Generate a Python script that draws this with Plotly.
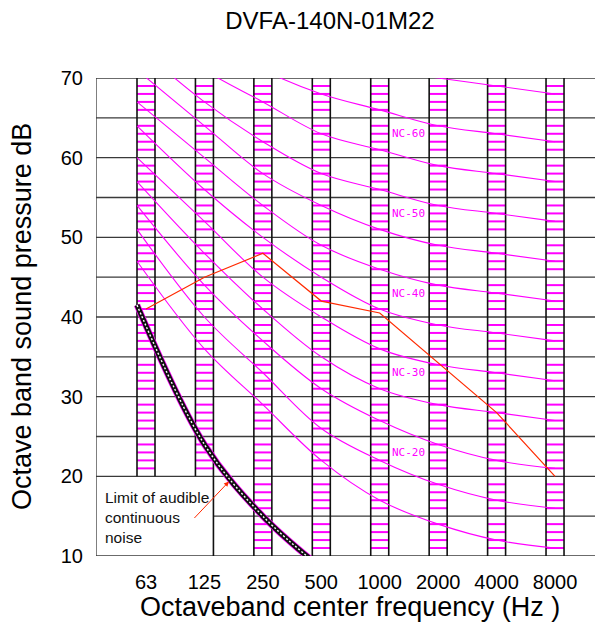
import plotly.graph_objects as go

# ---------------- data ----------------
freq_labels = ["63", "125", "250", "500", "1000", "2000", "4000", "8000"]
y_ticks = [10, 20, 30, 40, 50, 60, 70]

nc_names = ["NC-15", "NC-20", "NC-25", "NC-30", "NC-35", "NC-40",
            "NC-45", "NC-50", "NC-55", "NC-60", "NC-65", "NC-70"]
nc15 = [47, 36, 29, 22, 17, 14, 12, 11]
nc20 = [51, 40, 33, 26, 22, 19, 17, 16]
nc25 = [54, 44, 37, 31, 27, 24, 22, 21]
nc30 = [57, 48, 41, 35, 31, 29, 28, 27]
nc35 = [60, 52, 45, 40, 36, 34, 33, 32]
nc40 = [64, 56, 50, 45, 41, 39, 38, 37]
nc45 = [67, 60, 54, 49, 46, 44, 43, 42]
nc50 = [71, 64, 58, 54, 51, 49, 48, 47]
nc55 = [74, 67, 62, 58, 56, 54, 53, 52]
nc60 = [77, 71, 67, 63, 61, 59, 58, 57]
nc65 = [80, 75, 71, 68, 66, 64, 63, 62]
nc70 = [83, 79, 75, 72, 71, 70, 69, 68]
nc_curves = [nc15, nc20, nc25, nc30, nc35, nc40, nc45, nc50, nc55, nc60, nc65, nc70]
nc_labelled = ["NC-20", "NC-30", "NC-40", "NC-50", "NC-60"]

measured_db = [41, 45, 48, 42, 40.5, 34.3, 28, 20]
audible_limit_db = [41.5, 24, 15, 8.5]

# ---------------- geometry / style ----------------
# the page body has an 8px margin, so the figure is drawn 8px smaller
PAGE_OFF = 8
W, H = 603 - PAGE_OFF, 632 - PAGE_OFF
ML, MR, MT, MB = 96 - PAGE_OFF, 0, 78 - PAGE_OFF, 76
BAND_HALF = 0.154
X_RANGE = [-0.8557, 7.821]
Y_RANGE = [10, 70]
MAGENTA = "#FF00FF"
FONT = "Liberation Sans"

n = len(freq_labels)
xc = list(range(n))
curve_x = [xc[0] - BAND_HALF] + xc[1:]

fig = go.Figure()

# horizontal grid lines (every 5 dB); 15 dB line stops at the annotation box
gx, gy = [], []
for v in range(Y_RANGE[0], Y_RANGE[1] + 1, 5):
    x0 = X_RANGE[0] if v != 15 else xc[1] + BAND_HALF
    gx += [x0, X_RANGE[1], None]
    gy += [v, v, None]
gx += [X_RANGE[0], X_RANGE[0], None]
gy += [Y_RANGE[0], Y_RANGE[1], None]
fig.add_trace(go.Scatter(x=gx, y=gy, mode="lines", line=dict(color="#3a3a3a", width=1.3),
                         hoverinfo="skip", showlegend=False))

# hatch inside bands (every 1 dB)
hx, hy = [], []
for i in xc:
    lo = 21 if i < 2 else 11
    for v in range(lo, Y_RANGE[1]):
        if v % 5 == 0:
            continue
        hx += [i - BAND_HALF, i + BAND_HALF, None]
        hy += [v, v, None]
fig.add_trace(go.Scatter(x=hx, y=hy, mode="lines", line=dict(color=MAGENTA, width=2),
                         hoverinfo="skip", showlegend=False))

# band edge lines
bx, by = [], []
for i in xc:
    for side in (-1, 1):
        bottom = 20 if (i < 2 and not (i == 1 and side == 1)) else Y_RANGE[0]
        bx += [i + side * BAND_HALF, i + side * BAND_HALF, None]
        by += [bottom, Y_RANGE[1], None]
fig.add_trace(go.Scatter(x=bx, y=by, mode="lines", line=dict(color="#111111", width=1.6),
                         hoverinfo="skip", showlegend=False))

# NC curves
for name, vals in zip(nc_names, nc_curves):
    fig.add_trace(go.Scatter(x=curve_x, y=vals, mode="lines", name=name,
                             line=dict(color=MAGENTA, width=1.1, shape="spline"),
                             showlegend=False))

# NC labels
for name, vals in zip(nc_names, nc_curves):
    if name in nc_labelled:
        level = int(name.split("-")[1])
        fig.add_annotation(x=(xc[4] + xc[5]) / 2, y=level + 3, text=name, showarrow=False,
                           font=dict(family="DejaVu Sans Mono", size=11, color=MAGENTA))

# limit of audible continuous noise
ax_ = curve_x[:len(audible_limit_db)]
fig.add_trace(go.Scatter(x=ax_, y=audible_limit_db, mode="lines",
                         line=dict(color=MAGENTA, width=6.5, shape="spline"),
                         hoverinfo="skip", showlegend=False))
fig.add_trace(go.Scatter(x=ax_, y=audible_limit_db, mode="lines",
                         line=dict(color="#111111", width=5, shape="spline"),
                         hoverinfo="skip", showlegend=False))
fig.add_trace(go.Scatter(x=ax_, y=audible_limit_db, mode="lines",
                         line=dict(color="#ffffff", width=1.4, shape="spline", dash="2px,2px"),
                         hoverinfo="skip", showlegend=False))

# measured spectrum
fig.add_trace(go.Scatter(x=xc, y=measured_db, mode="lines", name="DVFA-140N-01M22",
                         line=dict(color="#FF2A00", width=1.2), showlegend=False))

# annotation text + arrow
fig.add_annotation(x=-0.741, y=14.83, xanchor="left", yanchor="middle", align="left",
                   text="Limit of audible<br>continuous<br>noise", showarrow=False,
                   font=dict(family=FONT, size=15.5, color="#111111"))
fig.add_annotation(x=1.42, y=19.35, ax=-36, ay=38, text="", showarrow=True,
                   arrowhead=2, arrowsize=1, arrowwidth=1, arrowcolor="#FF2A00", standoff=0)

# axis titles
fig.add_annotation(xref="paper", yref="paper", x=0, y=0.5, xshift=22 - 96, textangle=-90,
                   text="Octave band sound pressure dB", showarrow=False,
                   xanchor="center", yanchor="middle",
                   font=dict(family=FONT, size=27, color="#000000"))
fig.add_annotation(xref="paper", yref="paper", x=0.5, y=0, yshift=-51,
                   text="Octaveband center frequency (Hz )", showarrow=False,
                   xanchor="center", yanchor="middle",
                   font=dict(family=FONT, size=27, color="#000000"))

fig.update_layout(
    width=W, height=H,
    margin=dict(l=ML, r=MR, t=MT, b=MB),
    paper_bgcolor="white", plot_bgcolor="white",
    title=dict(text="DVFA-140N-01M22", xref="container", yref="container",
               x=(330 - PAGE_OFF) / W, y=1 - 4 / H, xanchor="center", yanchor="top",
               pad=dict(t=0, b=0),
               font=dict(family=FONT, size=24, color="#000000")),
    xaxis=dict(range=X_RANGE, tickmode="array", tickvals=xc, ticktext=freq_labels,
               showgrid=False, zeroline=False, showline=False, ticks="",
               ticklabelstandoff=12,
               tickfont=dict(family=FONT, size=20, color="#000000")),
    yaxis=dict(range=Y_RANGE, tickmode="array", tickvals=y_ticks,
               showgrid=False, zeroline=False, showline=False, ticks="",
               ticklabelstandoff=12,
               tickfont=dict(family=FONT, size=20, color="#000000")),
    showlegend=False,
)

fig.write_html("out.html")
